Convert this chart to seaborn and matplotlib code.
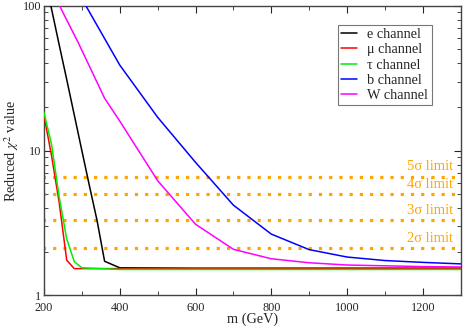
import numpy as np
import pandas as pd
import matplotlib
matplotlib.use("Agg")
import matplotlib.pyplot as plt
import seaborn as sns

# ---------- data ----------
m_e = [200, 220, 240, 260, 280, 300, 320, 340, 360, 400, 600, 800, 1000, 1300]
chi_e = [165, 95, 54, 31, 17.6, 10.0, 5.7, 3.3, 1.72, 1.55, 1.54, 1.54, 1.54, 1.54]

m_mu = [200, 220, 240, 260, 280, 300, 400, 600, 800, 1000, 1300]
chi_mu = [17.5, 9.2, 4.4, 1.75, 1.53, 1.53, 1.53, 1.53, 1.53, 1.53, 1.53]

m_tau = [200, 220, 240, 260, 280, 300, 400, 600, 800, 1000, 1300]
chi_tau = [18.3, 11.0, 4.8, 2.45, 1.71, 1.55, 1.51, 1.51, 1.51, 1.51, 1.51]

m_b = [300, 400, 500, 600, 700, 800, 900, 1000, 1100, 1200, 1300]
chi_b = [112, 39, 17, 8.3, 4.2, 2.65, 2.07, 1.84, 1.74, 1.69, 1.65]

m_w = [200, 250, 290, 360, 400, 500, 600, 700, 800, 900, 1000, 1100, 1200, 1300]
chi_w = [170, 90, 56, 23, 16, 6.2, 3.1, 2.08, 1.79, 1.68, 1.62, 1.6, 1.58, 1.57]

channels = ["e channel", "\u03bc channel", "\u03c4 channel", "b channel", "W channel"]
colors = ["black", "red", "#00ee00", "blue", "magenta"]

limits = [6.6, 5.0, 3.3, 2.12]
limit_labels = ["5\u03c3 limit", "4\u03c3 limit", "3\u03c3 limit", "2\u03c3 limit"]

# ---------- setup ----------
sns.set_style("ticks")
plt.rcParams["font.family"] = ["Liberation Serif", "DejaVu Serif"]
plt.rcParams["mathtext.fontset"] = "stix"

series = [(m_e, chi_e), (m_mu, chi_mu), (m_tau, chi_tau), (m_b, chi_b), (m_w, chi_w)]

fig = plt.figure(figsize=(4.63, 3.26), dpi=100)
ax = fig.add_axes([0.095, 0.094, 0.9, 0.888])

# orange sigma-limit lines
for lv, lab in zip(limits, limit_labels):
    ax.axhline(lv, color="#ffa500", lw=2.3, linestyle=(0.5, (1, 2.2)), zorder=1)
    ax.annotate(lab, xy=(1280, lv), xytext=(0, 2.5), textcoords="offset points",
                ha="right", va="bottom", color="#ffa500", fontsize=10.5)

for (mx, cy), name, col in zip(series, channels, colors):
    sns.lineplot(x=mx, y=cy, color=col, label=name, lw=1.1, ax=ax, zorder=3)

ax.set_yscale("log")
ax.set_xlim(200, 1300)
ax.set_ylim(1, 100)
ax.set_xticks(range(200, 1301, 200))
ax.set_xticks(range(200, 1301, 100), minor=True)
ax.set_yticks([1, 10, 100])
ax.set_yticklabels(["1", "10", "100"])
ax.tick_params(which="both", direction="in", top=True, right=True, labelsize=8.8)
ax.tick_params(which="major", length=5)
ax.tick_params(axis="y", which="major", pad=2)
ax.tick_params(axis="x", which="major", pad=5)
ax.tick_params(which="minor", length=3)
for s in ax.spines.values():
    s.set_color("#444444")
    s.set_linewidth(1.0)

ax.set_xlabel("m (GeV)", fontsize=10.3, labelpad=-1)
ax.set_ylabel("Reduced $\\chi^2$ value", fontsize=10.3, labelpad=1)

leg = ax.legend(loc="upper right", bbox_to_anchor=(0.93, 0.935), fontsize=10.3,
                frameon=True, fancybox=False, handlelength=1.1,
                borderpad=0.25, labelspacing=0.15, handletextpad=0.7,
                borderaxespad=0)
leg.get_frame().set_edgecolor("#555555")
leg.get_frame().set_linewidth(0.8)

fig.savefig("out.png", dpi=100)
